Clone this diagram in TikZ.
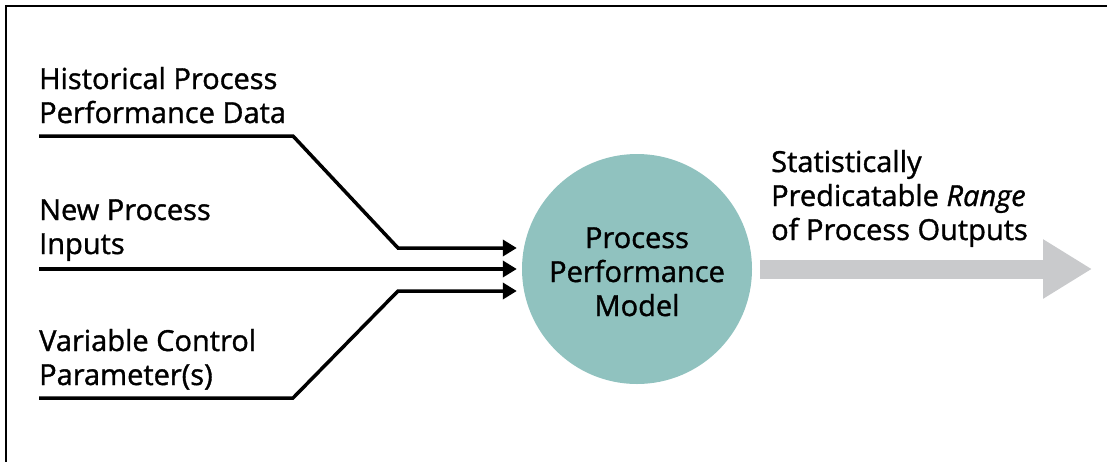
\documentclass[tikz,border=0pt]{standalone}
\usepackage{fontspec}
\setmainfont{Open Sans}[UprightFeatures={FakeBold=1.2},ItalicFeatures={FakeBold=1.2}]
\usetikzlibrary{arrows.meta}
\definecolor{modelfill}{HTML}{90C2BF}
\definecolor{outgray}{HTML}{C9CACC}

\begin{document}
\begin{tikzpicture}[x=1pt,y=-1pt,
    feed/.style={line width=3.5pt,-{Triangle[length=14pt,width=16pt]}},
    lbl/.style={anchor=base west,align=left,inner sep=0pt,font=\fontsize{29}{34}\selectfont}]
    \useasboundingbox (0,0) rectangle (1107,461);
    % frame
    \draw[line width=2pt] (6,470)--(6,6)--(1115,6);
    % model
    \node[circle,fill=modelfill,minimum size=230pt,inner sep=0pt] (model) at (637,269) {};
    \node[anchor=base,align=center,inner sep=0pt,font=\fontsize{29}{34}\selectfont] (modeltxt) at (637,316) {Process\\Performance\\Model};
    % inputs
    \node[lbl] (hist) at (39,123) {Historical Process\\Performance Data};
    \node[lbl] (new) at (39,254) {New Process\\Inputs};
    \node[lbl] (var) at (39,385) {Variable Control\\Parameter(s)};
    \coordinate (h0) at (39,136);
    \coordinate (n0) at (39,269);
    \coordinate (v0) at (39,398);
    \draw[feed] (h0)--(293,136)--(398,248)--([xshift=-5pt,yshift=21pt]model.west);
    \draw[feed] (n0)--([xshift=-5pt]model.west);
    \draw[feed] (v0)--(293,398)--(398,291)--([xshift=-5pt,yshift=-22pt]model.west);
    % output
    \node[lbl] (range) at (771,240) {Statistically\\Predicatable \textit{Range}\\of Process Outputs};
    \coordinate (out) at (1092,269);
    \draw[outgray,line width=19pt,-{Triangle[length=49pt,width=56pt]},shorten <=8pt] (model.east)--(out);
\end{tikzpicture}
\end{document}
